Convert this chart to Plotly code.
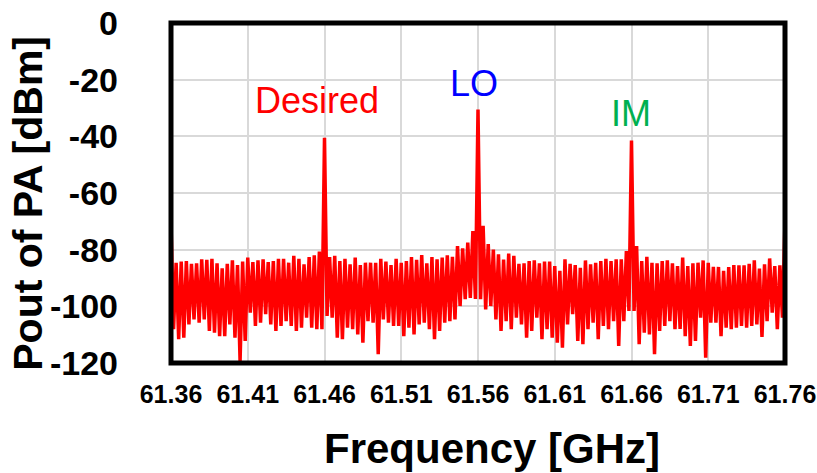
import plotly.graph_objects as go

# Sampled spectrum: first sample frequency and sample step (GHz)
freq_start_ghz = 61.36
freq_step_ghz = 0.4 / 240

# Output power of PA [dBm] per sample
pout_dbm = [
    -70.5, -108.1, -84.6, -111.6, -84.2, -111.1, -84.0, -106.4, -85.0, -104.6,
    -84.8, -105.8, -83.4, -104.6, -83.6, -108.7, -83.2, -109.3, -84.8, -110.5,
    -86.6, -110.5, -85.0, -106.4, -83.8, -111.1, -85.4, -119.3, -84.2, -112.2,
    -82.8, -102.2, -84.4, -106.9, -83.8, -105.8, -83.4, -102.8, -84.4, -106.4,
    -84.0, -108.7, -83.2, -106.9, -83.2, -105.2, -84.6, -106.9, -82.2, -108.7,
    -83.2, -107.5, -85.2, -104.0, -82.6, -107.5, -82.0, -108.1, -80.7, -108.1,
    -40.5, -103.4, -82.6, -104.0, -82.2, -111.1, -84.0, -111.6, -83.2, -107.5,
    -85.2, -108.1, -82.8, -109.9, -85.4, -112.8, -84.6, -105.2, -84.6, -105.8,
    -84.6, -116.9, -83.2, -104.6, -84.2, -105.8, -85.4, -106.9, -83.2, -106.9,
    -84.6, -110.5, -84.0, -107.5, -82.6, -109.9, -83.6, -106.4, -81.9, -105.8,
    -84.8, -108.1, -82.6, -111.6, -83.4, -108.7, -82.8, -105.8, -82.0, -105.2,
    -82.5, -104.6, -78.7, -99.9, -79.5, -97.5, -77.5, -97.0, -73.4, -97.4,
    -30.5, -97.5, -71.6, -101.1, -78.0, -99.9, -80.0, -104.6, -81.6, -108.7,
    -83.5, -105.2, -81.4, -108.1, -82.2, -104.0, -85.0, -106.4, -84.8, -111.1,
    -84.0, -108.7, -83.8, -104.0, -84.8, -111.6, -84.2, -108.1, -84.2, -111.1,
    -85.8, -112.8, -87.5, -114.6, -83.4, -106.4, -85.0, -102.8, -85.4, -112.2,
    -86.4, -113.4, -83.8, -108.1, -85.2, -105.8, -84.6, -111.6, -84.0, -106.9,
    -83.2, -108.1, -84.0, -105.2, -83.4, -114.0, -83.4, -105.2, -80.5, -101.6,
    -41.5, -101.6, -78.7, -113.4, -84.0, -109.3, -82.5, -109.9, -84.6, -116.9,
    -84.8, -108.7, -84.0, -106.9, -83.8, -105.2, -84.8, -108.1, -85.8, -108.0,
    -82.8, -110.5, -85.8, -114.0, -84.8, -112.2, -84.6, -104.0, -83.8, -118.1,
    -84.6, -105.8, -86.1, -105.8, -86.1, -110.5, -87.5, -107.5, -86.1, -108.1,
    -85.4, -107.5, -85.5, -106.9, -85.5, -107.5, -85.0, -106.9, -83.8, -106.4,
    -86.7, -110.8, -85.2, -105.2, -83.1, -102.2, -85.8, -108.1, -85.5, -104.0,
    -70.0, -113.0,
]

x_tickvals = [61.36, 61.41, 61.46, 61.51, 61.56, 61.61, 61.66, 61.71, 61.76]
x_ticktext = ["61.36", "61.41", "61.46", "61.51", "61.56", "61.61", "61.66", "61.71", "61.76"]
y_tickvals = [0, -20, -40, -60, -80, -100, -120]
y_ticktext = ["0", "-20", "-40", "-60", "-80", "-100", "-120"]

# Peak labels: text, frequency, level, colour
label_text = ["Desired", "LO", "IM"]
label_freq = [61.455, 61.5577, 61.6598]
label_level = [-27.2, -21.2, -32.1]
label_color = ["#FF0000", "#0000FF", "#00B050"]

FONT = "Liberation Sans, Arial, sans-serif"

fig = go.Figure()
fig.add_trace(go.Scatter(
    x0=freq_start_ghz, dx=freq_step_ghz, y=pout_dbm,
    mode="lines", line=dict(color="#FF0000", width=3.5),
    showlegend=False, hoverinfo="skip",
))

for t, fx, ly, c in zip(label_text, label_freq, label_level, label_color):
    fig.add_annotation(x=fx, y=ly, xref="x", yref="y", text=t, showarrow=False,
                       font=dict(family=FONT, size=36, color=c),
                       xanchor="center", yanchor="middle")

fig.add_annotation(x=0.5236, y=-0.25, xref="paper", yref="paper", text="<b>Frequency [GHz]</b>",
                   showarrow=False, xanchor="center", yanchor="middle",
                   font=dict(family=FONT, size=42, color="black"))
fig.add_annotation(x=-0.232, y=0.47, xref="paper", yref="paper", text="<b>Pout of PA [dBm]</b>",
                   showarrow=False, xanchor="center", yanchor="middle", textangle=-90,
                   font=dict(family=FONT, size=41, color="black"))

fig.add_shape(type="rect", xref="paper", yref="paper", x0=0, y0=0, x1=1, y1=1,
              line=dict(color="black", width=5), layer="above")

fig.update_layout(
    width=817, height=473,
    margin=dict(l=171, r=32, t=23, b=110, autoexpand=False),
    paper_bgcolor="white", plot_bgcolor="white",
    xaxis=dict(range=[61.36, 61.76], tickvals=x_tickvals, ticktext=x_ticktext,
               showgrid=True, gridcolor="#D9D9D9", gridwidth=1.5, zeroline=False,
               showline=False, ticks="", ticklabelstandoff=14, tickangle=0, automargin=False,
               tickfont=dict(family=FONT, size=25, color="black", weight="bold")),
    yaxis=dict(range=[-120, 0], tickvals=y_tickvals, ticktext=y_ticktext,
               showgrid=True, gridcolor="#D9D9D9", gridwidth=1.5, zeroline=False,
               showline=False, ticks="", ticklabelstandoff=52, automargin=False,
               tickfont=dict(family=FONT, size=34, color="black", weight="bold")),
)

fig.write_html("out.html", config={"displayModeBar": False},
               post_script="document.body.style.margin='0px';document.body.style.overflow='hidden';")
